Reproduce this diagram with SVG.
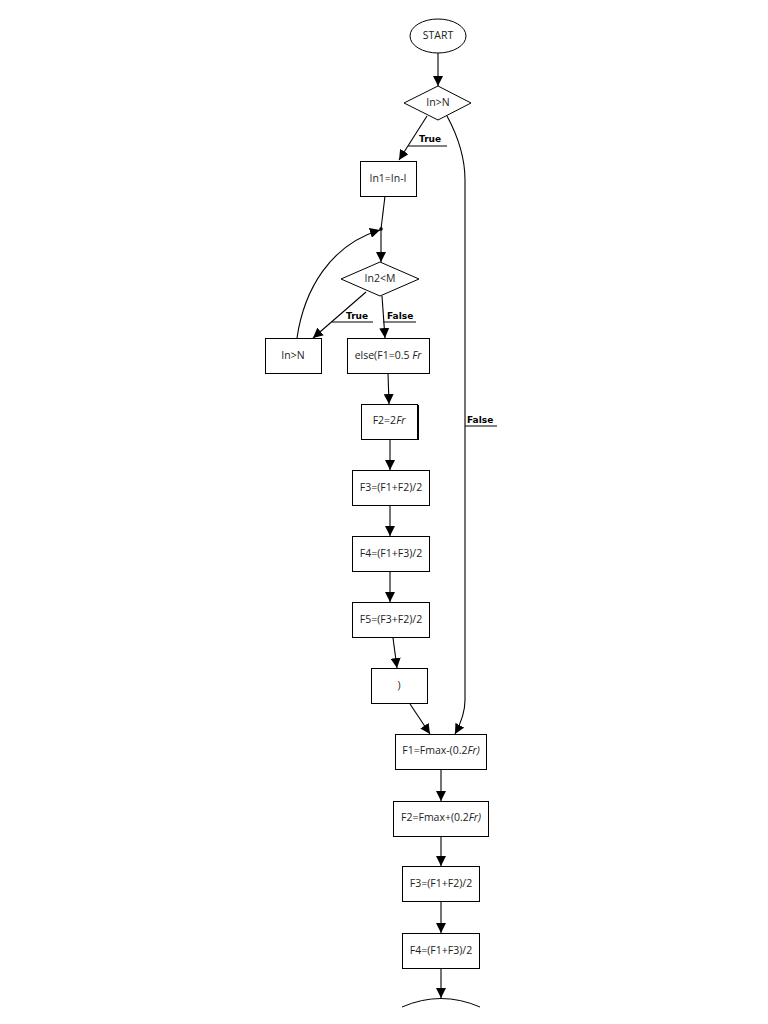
<svg xmlns="http://www.w3.org/2000/svg" width="768" height="1024" viewBox="0 0 768 1024">
<style>
.n{fill:#fff;stroke:#000;stroke-width:1}
.t{font-family:"Open Sans","DejaVu Sans",sans-serif;font-size:10.5px;fill:#222;text-anchor:middle;dominant-baseline:central}
.l{font-family:"DejaVu Sans","Open Sans",sans-serif;font-size:9px;font-weight:bold;fill:#000}
.e{fill:none;stroke:#000;stroke-width:1.1}
.u{stroke:#000;stroke-width:1}
</style>
<defs>
<marker id="a" viewBox="0 0 10 10" refX="10" refY="5" markerWidth="10" markerHeight="10" markerUnits="userSpaceOnUse" orient="auto">
<path d="M0,0 L10,5 L0,10 z" fill="#000"/>
</marker>
</defs>
<rect width="768" height="1024" fill="#fff"/>
<g id="connectors">
<path class="e" d="M438,53 L438,86" marker-end="url(#a)"/>
<path class="e" d="M427,116 L399,160" marker-end="url(#a)"/>
<path class="e" d="M447,116 C460,140 465,160 465,180 L465,700 C465,712 461,723 455,734" marker-end="url(#a)"/>
<path class="e" d="M385,196 L381,229"/>
<circle cx="381" cy="229" r="1.8" fill="#000"/>
<path class="e" d="M381,229 L381,262" marker-end="url(#a)"/>
<path class="e" d="M366,292 L313,338" marker-end="url(#a)"/>
<path class="e" d="M382,296 L385,338" marker-end="url(#a)"/>
<path class="e" d="M297,338 C304,290 330,245 380,230" marker-end="url(#a)"/>
<path class="e" d="M388,373 L389,404" marker-end="url(#a)"/>
<path class="e" d="M390,439 L390,470" marker-end="url(#a)"/>
<path class="e" d="M390,506 L390,536" marker-end="url(#a)"/>
<path class="e" d="M390,572 L390,602" marker-end="url(#a)"/>
<path class="e" d="M393,638 L397,668" marker-end="url(#a)"/>
<path class="e" d="M410,704 L430,734" marker-end="url(#a)"/>
<path class="e" d="M441,769 L441,801" marker-end="url(#a)"/>
<path class="e" d="M441,836 L441,866" marker-end="url(#a)"/>
<path class="e" d="M441,901 L441,933" marker-end="url(#a)"/>
<path class="e" d="M441,968 L441,998" marker-end="url(#a)"/>
<text class="l" x="419" y="142">True</text>
<line class="u" x1="408" y1="146" x2="447" y2="146"/>
<text class="l" x="467" y="423">False</text>
<line class="u" x1="465" y1="426" x2="497" y2="426"/>
<text class="l" x="346" y="319">True</text>
<line class="u" x1="332" y1="322" x2="373" y2="322"/>
<text class="l" x="387" y="319">False</text>
<line class="u" x1="383" y1="322" x2="416" y2="322"/>
</g>
<g id="start"><ellipse class="n" cx="438" cy="36" rx="28" ry="17"/><text class="t" x="438" y="35">START</text></g>
<g id="d1"><polygon class="n" points="438,86 471,103 438,120 404,103"/><text class="t" x="438" y="102">In&gt;N</text></g>
<g id="b1"><rect class="n" x="360.5" y="161.5" width="56" height="35"/><text class="t" x="388" y="177.5">In1=In-I</text></g>
<g id="d2"><polygon class="n" points="380,262 419,279 380,296 341,279"/><text class="t" x="380" y="278">In2&lt;M</text></g>
<g id="b2"><rect class="n" x="265.5" y="338.5" width="56" height="35"/><text class="t" x="293" y="354.5">In&gt;N</text></g>
<g id="b3"><rect class="n" x="347.5" y="338.5" width="82" height="35"/><text class="t" x="388" y="354.5">else(F1=0.5 <tspan font-style="italic">Fr</tspan></text></g>
<g id="b4"><rect class="n" x="361.5" y="404.5" width="56" height="35"/><line x1="418.5" y1="405" x2="418.5" y2="440" stroke="#000" stroke-width="1"/><text class="t" x="389" y="419.5">F2=2<tspan font-style="italic">Fr</tspan></text></g>
<g id="b5"><rect class="n" x="352.5" y="470.5" width="77" height="35"/><text class="t" x="391" y="486.5">F3=(F1+F2)/2</text></g>
<g id="b6"><rect class="n" x="352.5" y="536.5" width="77" height="35"/><text class="t" x="391" y="552.5">F4=(F1+F3)/2</text></g>
<g id="b7"><rect class="n" x="352.5" y="602.5" width="77" height="35"/><text class="t" x="391" y="618.5">F5=(F3+F2)/2</text></g>
<g id="b8"><rect class="n" x="371.5" y="668.5" width="56" height="35"/><text class="t" x="399" y="684.5">)</text></g>
<g id="b9"><rect class="n" x="395.5" y="734.5" width="91" height="35"/><text class="t" x="441" y="750">F1=Fmax-(0.2<tspan font-style="italic">Fr)</tspan></text></g>
<g id="b10"><rect class="n" x="393.5" y="801.5" width="95" height="35"/><text class="t" x="441" y="817">F2=Fmax+(0.2<tspan font-style="italic">Fr)</tspan></text></g>
<g id="b11"><rect class="n" x="402.5" y="866.5" width="77" height="35"/><text class="t" x="441" y="882.5">F3=(F1+F2)/2</text></g>
<g id="b12"><rect class="n" x="402.5" y="933.5" width="77" height="35"/><text class="t" x="441" y="949.5">F4=(F1+F3)/2</text></g>
<g id="end"><path d="M402,1007 Q441,990 480,1007" fill="none" stroke="#000" stroke-width="1"/></g>
</svg>
